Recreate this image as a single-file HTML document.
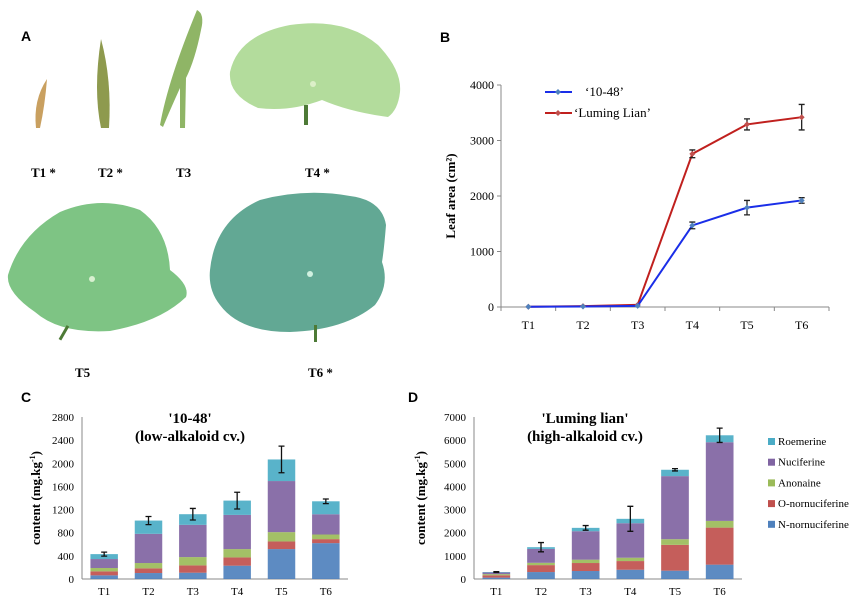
<!DOCTYPE html>
<html><head><meta charset="utf-8"><style>
html,body{margin:0;padding:0;background:#fff;}
svg{display:block;font-family:"Liberation Serif",serif;}
.pl{font-family:"Liberation Sans",sans-serif;font-weight:bold;font-size:14px;}
</style></head><body>
<svg id="fig" width="849" height="599" viewBox="0 0 849 599">
<g>
<text class="pl" x="21" y="41">A</text>
<path d="M36,128 Q33,100 47,79 Q45,105 40,128 Z" fill="#c9a060"/>
<path d="M101,128 Q93,90 101,39 Q112,80 109,128 Z" fill="#8e9a4e"/>
<path d="M160,125 Q168,80 197,10 Q205,14 201,30 Q195,60 186,78 L185,128 L180,128 L180,88 Q170,110 163,127 Z" fill="#8fb566"/>
<path d="M230,72 Q238,35 290,25 Q345,17 378,45 Q402,70 400,92 Q398,110 388,117 Q350,112 322,100 Q290,112 258,108 Q228,95 230,72 Z" fill="#b3dc9c"/>
<circle cx="313" cy="84" r="3" fill="#dcefc8"/>
<rect x="304" y="105" width="4" height="20" fill="#4d7a36"/>
<path d="M8,275 Q20,235 60,212 Q100,195 140,210 Q168,230 170,270 Q190,285 186,297 Q160,322 110,331 Q60,334 35,312 Q6,292 8,275 Z" fill="#7ec484"/>
<circle cx="92" cy="279" r="3" fill="#d8f0d0"/>
<rect x="64" y="325" width="3" height="16" fill="#4d7a36" transform="rotate(30 65 330)"/>
<path d="M210,270 Q215,220 260,200 Q305,188 350,196 Q382,200 386,225 Q384,250 382,262 Q390,285 375,305 Q345,330 290,332 Q240,332 220,305 Q208,290 210,270 Z" fill="#62a894"/>
<circle cx="310" cy="274" r="3" fill="#d0f0e0"/>
<rect x="314" y="325" width="3" height="17" fill="#4d7a36"/>
<g font-weight="bold" font-size="13">
<text x="31" y="177">T1 *</text>
<text x="98" y="177">T2 *</text>
<text x="176" y="177">T3</text>
<text x="305" y="177">T4 *</text>
<text x="75" y="377">T5</text>
<text x="308" y="377">T6 *</text>
</g>
</g>
<g id="panelB"><text class="pl" x="440" y="42">B</text></g>
<g id="panelC"><text class="pl" x="21" y="402">C</text></g>
<g id="panelD"><text class="pl" x="408" y="402">D</text></g>
</svg>
<script>
const cats = ["T1","T2","T3","T4","T5","T6"];
const leaf1048 = [5,10,20,1470,1790,1920];
const leaf1048Err = [0,0,0,60,130,50];
const leafLL = [5,15,40,2760,3290,3420];
const leafLLErr = [0,0,0,70,100,230];
const bTicks = [0,1000,2000,3000,4000];

const seriesNames = ["N-nornuciferine","O-nornuciferine","Anonaine","Nuciferine","Roemerine"];
const seriesColors = ["#4f81bd","#c0504d","#9bbb59","#8064a2","#4bacc6"];
const cN = [63,103,109,230,517,620];
const cO = [69,81,126,143,132,69];
const cA = [58,92,144,144,161,80];
const cNu = [155,505,557,591,883,350];
const cR = [85,229,184,247,373,224];
const cErr = [35,70,100,145,230,40];
const cTicks = [0,400,800,1200,1600,2000,2400,2800];
const dN = [60,300,345,400,360,620];
const dO = [100,300,345,375,1115,1600];
const dA = [50,100,145,145,245,290];
const dNu = [70,600,1230,1490,2725,3400];
const dR = [20,75,145,190,275,300];
const dErr = [20,200,100,540,50,310];
const dTicks = [0,1000,2000,3000,4000,5000,6000,7000];

const NS="http://www.w3.org/2000/svg";
function mk(parent,tag,attrs,text){const e=document.createElementNS(NS,tag);for(const k in attrs)e.setAttribute(k,attrs[k]);if(text!==undefined)e.textContent=text;parent.appendChild(e);return e;}

(function(){
const g=document.getElementById('panelB');
const x0=501,x1=829,y0=307,y1=85,max=4000;
const bw=(x1-x0)/cats.length;
const X=i=>x0+bw*(i+0.5), Y=v=>y0-(v/max)*(y0-y1);
let e;
e=mk(g,'line',{x1:x0,y1:y1,x2:x0,y2:y0,stroke:'#888','stroke-width':1});

e=mk(g,'line',{x1:x0,y1:y0,x2:x1,y2:y0,stroke:'#888','stroke-width':1});

bTicks.forEach(t=>{mk(g,'line',{x1:x0-4,y1:Y(t),x2:x0,y2:Y(t),stroke:'#888'});
e=mk(g,'text',{x:x0-7,y:Y(t)+4,'text-anchor':'end','font-size':12},t);
});
for(let i=0;i<=cats.length;i++)mk(g,'line',{x1:x0+bw*i,y1:y0,x2:x0+bw*i,y2:y0+4,stroke:'#888'});
cats.forEach((c,i)=>{e=mk(g,'text',{x:X(i),y:y0+22,'text-anchor':'middle','font-size':12},c);
});
e=mk(g,'text',{transform:`translate(455,${(y0+y1)/2}) rotate(-90)`,'text-anchor':'middle','font-size':13,'font-weight':'bold'},'Leaf area (cm²)');

[[leafLL,leafLLErr,'#c0201e','luming-lian'],[leaf1048,leaf1048Err,'#1a2ee8','10-48']].forEach(([vals,errs,col,nm])=>{
 e=mk(g,'polyline',{points:vals.map((v,i)=>X(i)+','+Y(v)).join(' '),fill:'none',stroke:col,'stroke-width':2});
 
 vals.forEach((v,i)=>{
  if(errs[i]>0){const a=Y(v+errs[i]),b=Y(v-errs[i]);
   mk(g,'path',{d:`M${X(i)},${a}V${b}M${X(i)-3},${a}h6M${X(i)-3},${b}h6`,stroke:'#222','stroke-width':1.3,fill:'none'});}
  e=mk(g,'path',{d:`M${X(i)},${Y(v)-3}l3,3l-3,3l-3,-3z`,fill:col==='#1a2ee8'?'#4f81bd':'#c0504d'});
  
 });
});
[['#1a2ee8','#4f81bd','‘10-48’',92,585,'legend-10-48'],['#c0201e','#c0504d','‘Luming Lian’',113,574,'legend-luming-lian']].forEach(([c,m,t,y,tx,nm])=>{
 const lg=mk(g,'g',{});
 mk(lg,'line',{x1:545,y1:y,x2:572,y2:y,stroke:c,'stroke-width':2});
 mk(lg,'path',{d:`M558,${y-3}l3,3l-3,3l-3,-3z`,fill:m});
 mk(lg,'text',{x:tx,y:y+4,'font-size':13},t);
});
})();

function stacked(gid,x0,x1,y0,y1,max,ticks,stacks,errs,titles,titleX,prefix,ytX){
const g=document.getElementById(gid);
const bw=(x1-x0)/cats.length;
const X=i=>x0+bw*(i+0.5), Y=v=>y0-(v/max)*(y0-y1);
let e;
e=mk(g,'line',{x1:x0,y1:y1,x2:x0,y2:y0,stroke:'#888'});

e=mk(g,'line',{x1:x0,y1:y0,x2:x1,y2:y0,stroke:'#888'});

ticks.forEach(t=>{e=mk(g,'text',{x:x0-8,y:Y(t)+4,'text-anchor':'end','font-size':11},t);
});
cats.forEach((c,i)=>{e=mk(g,'text',{x:X(i),y:y0+16,'text-anchor':'middle','font-size':11},c);
});
e=mk(g,'text',{transform:`translate(${ytX},${(y0+y1)/2}) rotate(-90)`,'text-anchor':'middle','font-size':13,'font-weight':'bold'});
e.innerHTML='content (mg.kg<tspan dy="-5" font-size="8">-1</tspan><tspan dy="5">)</tspan>';

titles.forEach((t,k)=>{e=mk(g,'text',{x:titleX,y:y1+6+k*18,'text-anchor':'middle','font-size':15,'font-weight':'bold'},t);
});
const w=bw*0.62;
cats.forEach((c,i)=>{let acc=0;
 stacks.forEach((s,k)=>{const top=acc+s[i];
  e=mk(g,'rect',{x:X(i)-w/2,y:Y(top),width:w,height:Y(acc)-Y(top),fill:seriesColors[k],'fill-opacity':0.92});
  
  
  acc=top;});
 const a=Y(acc+errs[i]),b=Y(acc-errs[i]);
 e=mk(g,'path',{d:`M${X(i)},${a}V${b}M${X(i)-3},${a}h6M${X(i)-3},${b}h6`,stroke:'#111','stroke-width':1.3,fill:'none'});
 
});
}
stacked('panelC',82,348,579,417,2800,cTicks,[cN,cO,cA,cNu,cR],cErr,["'10-48'","(low-alkaloid cv.)"],190,'c',40);
stacked('panelD',474,742,579,417,7000,dTicks,[dN,dO,dA,dNu,dR],dErr,["'Luming lian'","(high-alkaloid cv.)"],585,'d',425);

(function(){const g=document.getElementById('panelD');
const order=[4,3,2,1,0];
order.forEach((k,r)=>{const y=442+r*20.7;
 const lg=mk(g,'g',{});
 mk(lg,'rect',{x:768,y:y-4,width:7,height:7,fill:seriesColors[k]});
 mk(lg,'text',{x:778,y:y+3,'font-size':11},seriesNames[k]);
});})();
</script>
</body></html>
